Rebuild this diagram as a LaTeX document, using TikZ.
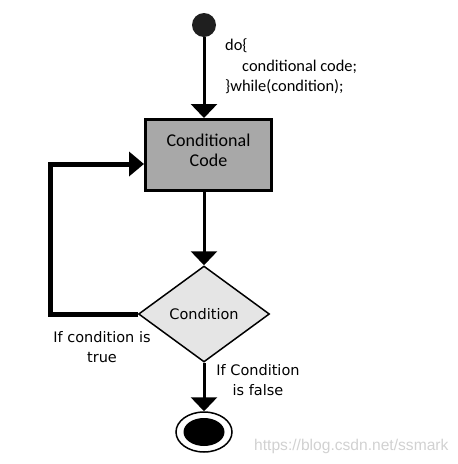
\documentclass[tikz,border=0pt]{standalone}
\usepackage{fontspec}
\setmainfont{DejaVu Sans}
\newfontfamily\codefont{Carlito}
\newfontfamily\markfont{Liberation Sans}
\usetikzlibrary{arrows.meta,shapes.geometric}

\begin{document}
\begin{tikzpicture}[x=1pt,y=-1pt,>={Triangle[width=26pt,length=14pt]},
  font=\fontsize{14.5}{20}\selectfont,
  flow/.style={->,line width=3pt},
  lbl/.style={align=center,inner sep=0pt}]
\useasboundingbox (0,0) rectangle (458,464);
\node[circle,fill=black!88,minimum size=24pt,inner sep=0pt] (start) at (204,25) {};
\node[anchor=north west,align=left,inner sep=0pt,font=\codefont\fontsize{16.4}{20.5}\selectfont] (note) at (225,38.5) {do\{\\\hspace*{17pt}conditional code;\\\}while(condition);};
\node[draw,line width=3pt,fill=black!34,minimum width=126pt,minimum height=71pt] (code) at (208.5,155) {};
\node[lbl,font=\codefont\fontsize{18}{20}\selectfont] (codetxt) at (208.5,150) {Conditional\\Code};
\node[diamond,draw,line width=1.5pt,fill=black!10,minimum width=131pt,minimum height=96pt,inner sep=0pt] (cond) at (204,314) {Condition};
\node[ellipse,draw,line width=1.5pt,minimum width=56pt,minimum height=40pt] (end) at (204,432) {};
\fill (end.center) ellipse [x radius=20.5pt,y radius=14pt];
\draw[flow] (start) -- (start |- code.north);
\draw[flow] (start |- code.south) -- (cond.north);
\draw[flow] (cond.south) -- (end.north);
\coordinate (loop) at (50,164);
\draw[line width=5pt,-{Triangle[width=24pt,length=15pt]}] (cond.west) -| (loop) -- (loop -| code.west);
\node[lbl] (truelbl) at (102,347.5) {If condition is\\true};
\node[lbl] (falselbl) at (258,380) {If Condition\\is false};
\node[font=\markfont\fontsize{15.6}{18}\selectfont,text=black!18,anchor=base west,inner sep=0pt] (mark) at (254,450) {https://blog.csdn.net/ssmark};
\end{tikzpicture}
\end{document}
